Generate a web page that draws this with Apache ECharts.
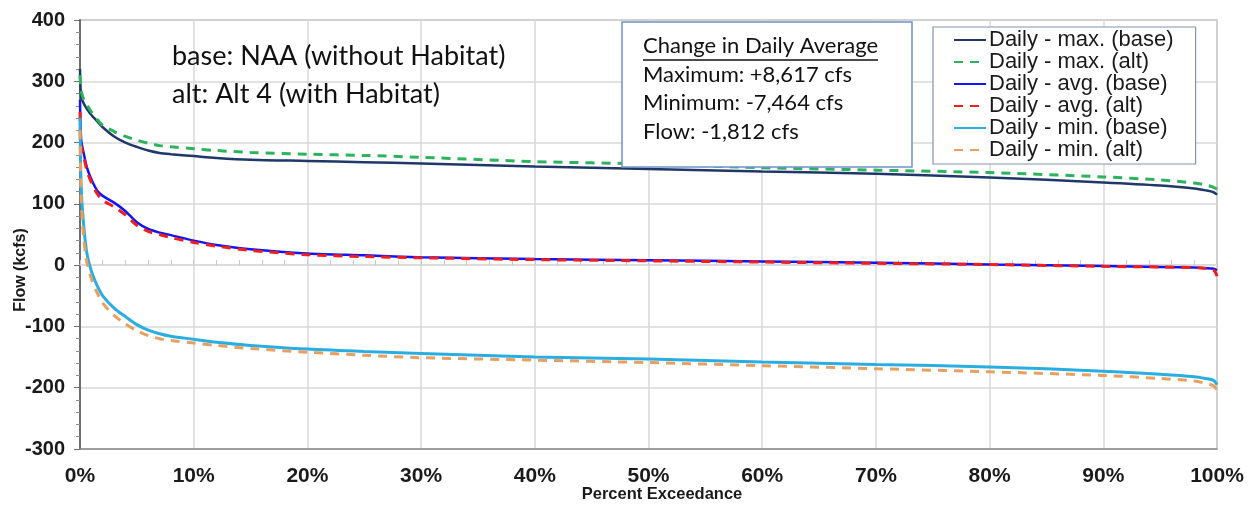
<!DOCTYPE html>
<html>
<head>
<meta charset="utf-8">
<script src="https://cdn.jsdelivr.net/npm/echarts@6/dist/echarts.min.js"></script>
<style>
html,body{margin:0;padding:0;background:#fff;}
#chart{width:1257px;height:512px;}
</style>
</head>
<body>
<div id="chart"></div>
<script>
// Percent exceedance (x)
const pct = [0, 0.1, 0.3, 0.6, 1, 1.5, 2, 3, 4, 5, 6, 7, 8, 10, 12, 15, 20, 25, 30, 40, 50, 60, 70, 80, 90, 95, 98, 99, 99.7, 100];
// Flow (kcfs)
const maxBase = [320, 275, 265, 255, 245, 235, 225, 210, 200, 193, 187, 183, 181, 178, 175, 172, 170, 168, 166, 161, 157, 153, 149, 143, 135, 130, 125, 122, 119, 115];
const maxAlt  = [310, 285, 272, 262, 250, 238, 228, 218, 210, 204, 199, 195, 193, 190, 187, 184, 181, 179, 176, 169, 165, 159, 155, 151, 144, 139, 134, 131, 127, 124];
const avgBase = [270, 205, 185, 160, 140, 122, 113, 102, 88, 70, 59, 53, 49, 40, 33, 26, 19, 16, 13, 10, 8, 6, 4, 1, -1.5, -3, -4, -5, -6, -8];
const avgAlt  = [250, 195, 180, 155, 135, 117, 106, 95, 82, 65, 55, 50, 45, 37, 31, 24, 17, 14, 12, 9, 7, 5, 3, 1, -2, -3, -4, -5, -8, -18];
const minBase = [240, 130, 70, 20, -10, -33, -50, -70, -84, -97, -106, -112, -116, -121, -126, -131, -137, -141, -144, -150, -153, -158, -162, -166, -173, -178, -182, -185, -188, -195];
const minAlt  = [220, 110, 50, 5, -22, -45, -62, -82, -96, -107, -115, -120, -123, -127, -131, -136, -142, -147, -151, -155, -159, -164, -169, -174, -180, -185, -189, -193, -197, -204];

const seriesNames = ['Daily - max. (base)', 'Daily - max. (alt)', 'Daily - avg. (base)', 'Daily - avg. (alt)', 'Daily - min. (base)', 'Daily - min. (alt)'];
const xTitle = 'Percent Exceedance';
const yTitle = 'Flow (kcfs)';
const annotLines = ['base: NAA (without Habitat)', 'alt: Alt 4 (with Habitat)'];
const boxTitle = 'Change in Daily Average';
const boxLines = ['Maximum: +8,617 cfs', 'Minimum: -7,464 cfs', 'Flow: -1,812 cfs'];

function pairs(vals){ return pct.map((p,i)=>[p, vals[i]]); }

const chart = echarts.init(document.getElementById('chart'));
const mkSeries = (name, vals, color, dashed, width) => ({
  name, type: 'line', data: pairs(vals), symbol: 'none', smooth: 0.3,
  xAxisIndex: 0, yAxisIndex: 0,
  lineStyle: {color, width, type: dashed ? [9, 7] : 'solid'},
  itemStyle: {color}, z: 3
});

chart.setOption({
  animation: false,
  backgroundColor: '#fff',
  grid: {left: 80, right: 40, top: 20, bottom: 63, show: true, borderColor: '#a6a6a6', borderWidth: 1.5},
  xAxis: [{
    type: 'value', min: 0, max: 100, interval: 10,
    axisLabel: {formatter: v => v + '%', fontFamily: 'Liberation Sans', fontWeight: 'bold', fontSize: 21, color: '#1a1a1a', margin: 17},
    axisLine: {onZero: false, lineStyle: {color: '#8c8c8c', width: 1.5}},
    axisTick: {show: false},
    splitLine: {show: true, lineStyle: {color: '#d9d9d9', width: 1.5}}
  }, {
    type: 'value', min: 0, max: 100, interval: 10, position: 'bottom',
    axisLabel: {show: false},
    axisLine: {show: true, onZero: true, lineStyle: {color: '#d9d9d9', width: 1.5}},
    axisTick: {show: true, inside: true, length: 5, lineStyle: {color: '#c8c8c8'}},
    minorTick: {show: true, splitNumber: 5, length: 5, lineStyle: {color: '#c8c8c8'}},
    splitLine: {show: false}
  }],
  yAxis: {
    type: 'value', min: -300, max: 400, interval: 100,
    axisLabel: {fontFamily: 'Liberation Sans', fontWeight: 'bold', fontSize: 20, color: '#1a1a1a', margin: 15},
    axisLine: {show: true, lineStyle: {color: '#6e6e6e', width: 2}},
    axisTick: {show: true, length: 6, lineStyle: {color: '#6e6e6e'}},
    minorTick: {show: true, splitNumber: 5, length: 4, lineStyle: {color: '#8c8c8c'}},
    splitLine: {show: true, lineStyle: {color: '#d9d9d9', width: 1.5}}
  },
  legend: {
    orient: 'vertical', left: 933, top: 27,
    data: seriesNames,
    itemWidth: 32, itemHeight: 12, itemGap: 0,
    itemStyle: {opacity: 0},
    padding: [2, 22, 3, 20],
    borderColor: '#8593ad', borderWidth: 1.2, backgroundColor: '#fff',
    textStyle: {fontFamily: 'Liberation Sans', fontSize: 22, color: '#1a1a1a', padding: [0, 0, 0, -2]}
  },
  series: [
    mkSeries(seriesNames[0], maxBase, '#1f3769', false, 2.5),
    mkSeries(seriesNames[1], maxAlt, '#2db35d', true, 3),
    mkSeries(seriesNames[2], avgBase, '#1414f0', false, 2.5),
    mkSeries(seriesNames[3], avgAlt, '#f21d1d', true, 3),
    mkSeries(seriesNames[4], minBase, '#2aaee2', false, 3),
    mkSeries(seriesNames[5], minAlt, '#e8a060', true, 3)
  ],
  graphic: [
    {type: 'text', x: 662, y: 494, z: 10, style: {text: xTitle, font: 'bold 16.5px "Liberation Sans"', fill: '#1a1a1a', align: 'center', verticalAlign: 'middle'}},
    {type: 'text', x: 21, y: 270, rotation: Math.PI / 2, z: 10, style: {text: yTitle, font: 'bold 16px "Liberation Sans"', fill: '#1a1a1a', align: 'center', verticalAlign: 'middle'}},
    {type: 'text', left: 172, top: 43, z: 10, style: {text: annotLines[0], font: '27px Lato', fill: '#111'}},
    {type: 'text', left: 172, top: 81, z: 10, style: {text: annotLines[1], font: '27px Lato', fill: '#111'}},
    {type: 'rect', shape: {x: 622, y: 22, width: 290, height: 145}, z: 10,
      style: {fill: '#fff', stroke: '#6e93c9', lineWidth: 1.5}},
    {type: 'text', left: 643, top: 35, z: 11, style: {text: boxTitle, font: '22px Lato', fill: '#111'}},
    {type: 'line', shape: {x1: 643, y1: 60, x2: 878, y2: 60}, z: 11, style: {stroke: '#111', lineWidth: 1.5}},
    {type: 'text', left: 643, top: 64, z: 11, style: {text: boxLines[0], font: '22px Lato', fill: '#111'}},
    {type: 'text', left: 643, top: 92, z: 11, style: {text: boxLines[1], font: '22px Lato', fill: '#111'}},
    {type: 'text', left: 643, top: 121, z: 11, style: {text: boxLines[2], font: '22px Lato', fill: '#111'}}
  ]
});
</script>
</body>
</html>
